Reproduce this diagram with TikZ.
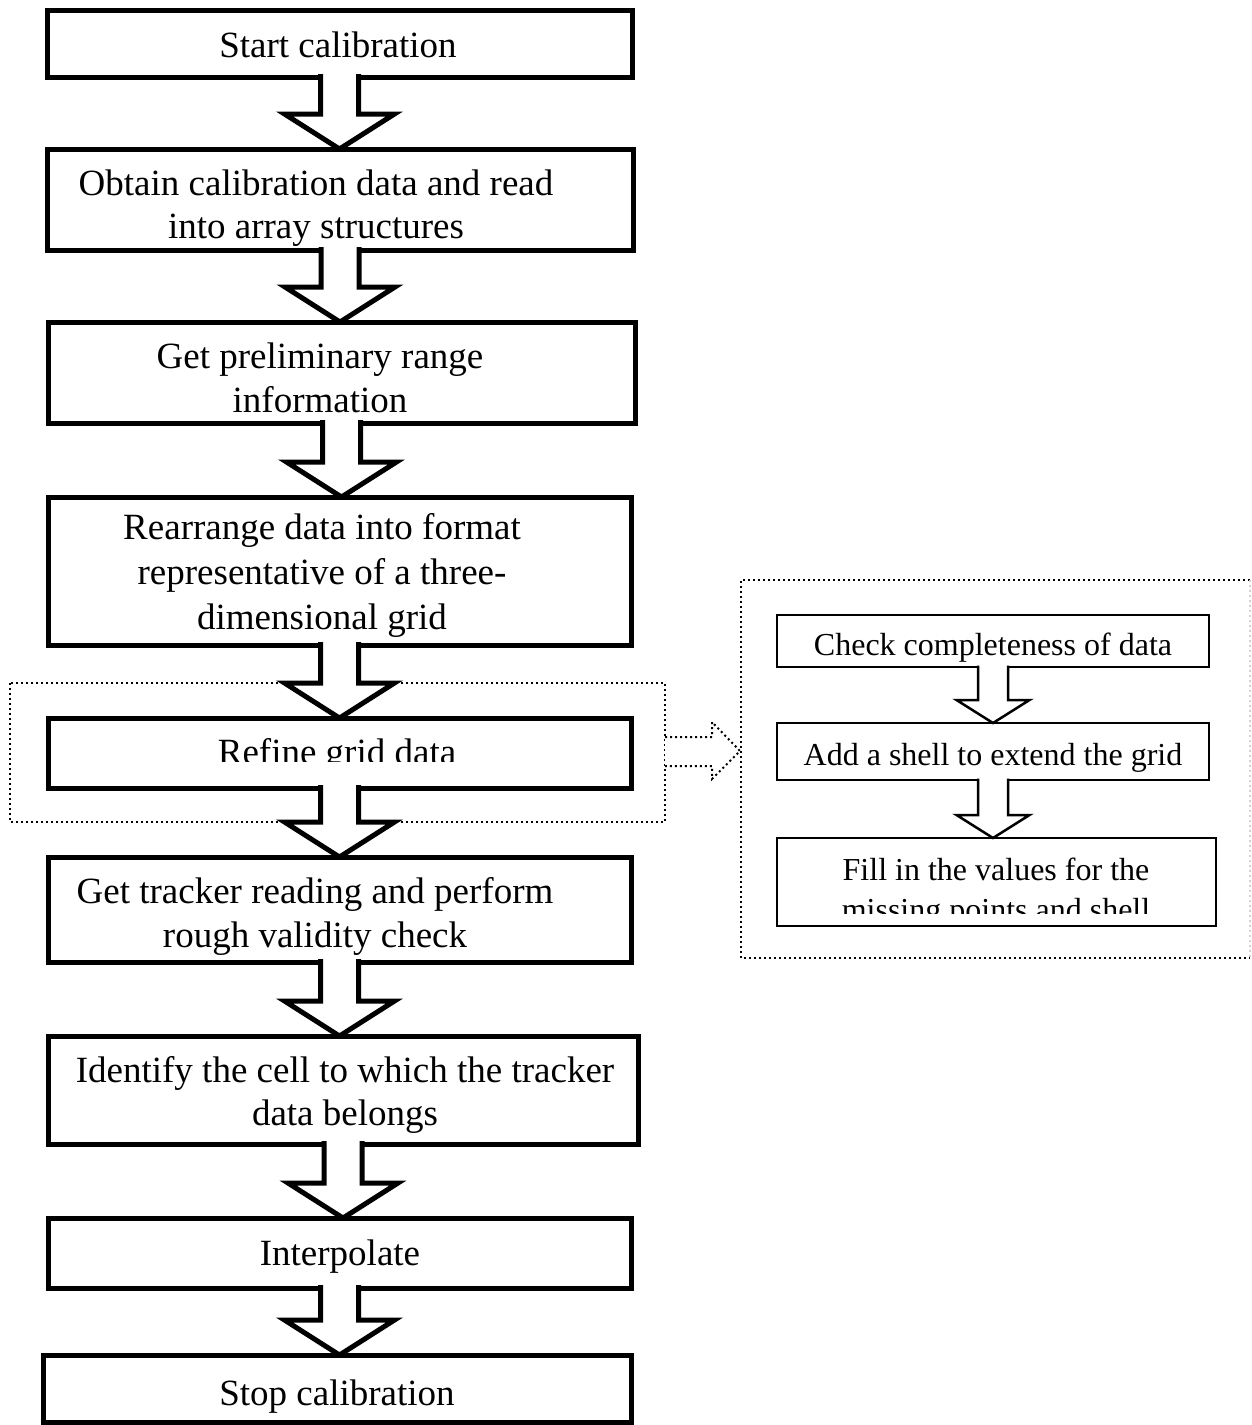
\documentclass[tikz,border=0pt]{standalone}
\usepackage{fontspec}
\setmainfont{Liberation Serif}
\usetikzlibrary{calc}
\tikzset{
  mainbox/.style={draw=black, line width=5pt, fill=white, inner sep=0pt, outer sep=0pt},
  subbox/.style={draw=black, line width=2.5pt, fill=white, inner sep=0pt, outer sep=0pt},
  grpbox/.style={inner sep=0pt, outer sep=0pt},
  dotline/.style={line width=2pt, dash pattern=on 2pt off 3pt},
  blkarrow/.style={draw=black, line width=5pt, fill=white, line join=miter},
  subarrow/.style={draw=black, line width=2.5pt, fill=white, line join=miter},
  txt/.style={font=\fontsize{37}{44}\selectfont, inner sep=0pt, anchor=base},
  subtxt/.style={font=\fontsize{32}{40}\selectfont, inner sep=0pt, anchor=base}
}
\newcommand\blkarrow[2]{%
  \draw[blkarrow] let \p1=(#1.south), \p2=(#2.north) in
    (\x1-19pt,\y1+3pt) -- (\x1-19pt,\y2+35pt) -- (\x1-55pt,\y2+35pt) -- (\x1,\y2)
    -- (\x1+55pt,\y2+35pt) -- (\x1+19pt,\y2+35pt) -- (\x1+19pt,\y1+3pt);}
\newcommand\subarrowdraw[2]{%
  \draw[subarrow] let \p1=(#1.south), \p2=(#2.north) in
    (\x1-15pt,\y1+1.5pt) -- (\x1-15pt,\y2+23pt) -- (\x1-36.5pt,\y2+23pt) -- (\x1,\y2)
    -- (\x1+36.5pt,\y2+23pt) -- (\x1+15pt,\y2+23pt) -- (\x1+15pt,\y1+1.5pt);}
\begin{document}
\begin{tikzpicture}[x=1pt,y=-1pt]
\useasboundingbox (0,0) rectangle (1251,1425);
% group frames
\node[grpbox, minimum width=655pt, minimum height=139pt] (grp1) at (337.5,752.5) {};
\draw[dotline] (grp1.north west) rectangle (grp1.south east);
\node[grpbox, minimum width=509pt, minimum height=378pt] (grp2) at (995.5,769) {};
\draw[dotline] (grp2.north east) -- (grp2.north west) -- (grp2.south west) -- (grp2.south east);
\draw[dotline, gray!35] (grp2.north east) -- (grp2.south east);
% main boxes
\node[mainbox, minimum width=585pt, minimum height=67pt] (b1) at (339.5,43.5) {};
\node[mainbox, minimum width=586pt, minimum height=101pt] (b2) at (340,199.5) {};
\node[mainbox, minimum width=587pt, minimum height=101pt] (b3) at (341.5,372.5) {};
\node[mainbox, minimum width=583pt, minimum height=148pt] (b4) at (339.5,571) {};
\node[mainbox, minimum width=583pt, minimum height=70pt] (b5) at (339.5,753) {};
\node[mainbox, minimum width=583pt, minimum height=105pt] (b6) at (339.5,909.5) {};
\node[mainbox, minimum width=590pt, minimum height=108pt] (b7) at (343,1090) {};
\node[mainbox, minimum width=583pt, minimum height=70pt] (b8) at (339.5,1253) {};
\node[mainbox, minimum width=588pt, minimum height=67pt] (b9) at (337,1388.5) {};
% texts
\node[txt] (t1) at (338,57) {Start calibration};
\node[txt] (t2a) at (316,195) {Obtain calibration data and read};
\node[txt] (t2b) at (316,238) {into array structures};
\node[txt] (t3a) at (320,368) {Get preliminary range};
\node[txt] (t3b) at (320,412) {information};
\node[txt] (t4a) at (322,539) {Rearrange data into format};
\node[txt] (t4b) at (322,584) {representative of a three-};
\node[txt] (t4c) at (322,629) {dimensional grid};
\begin{scope}
\clip (50,720) rectangle (629,761);
\node[txt] (t5) at (337,764) {Refine grid data};
\end{scope}
\node[txt] (t6a) at (315,903) {Get tracker reading and perform};
\node[txt] (t6b) at (315,947) {rough validity check};
\node[txt] (t7a) at (345,1082) {Identify the cell to which the tracker};
\node[txt] (t7b) at (345,1125) {data belongs};
\node[txt] (t8) at (340,1265) {Interpolate};
\node[txt] (t9) at (337,1405) {Stop calibration};
% block arrows
\blkarrow{b1}{b2}
\blkarrow{b2}{b3}
\blkarrow{b3}{b4}
\blkarrow{b4}{b5}
\blkarrow{b5}{b6}
\blkarrow{b6}{b7}
\blkarrow{b7}{b8}
\blkarrow{b8}{b9}
% dotted link arrow
\draw[dotline, fill=white] let \p1=(grp1.east), \p2=(grp2.west) in
  (\x1,\y1+15.5pt) -- (\x2-29pt,\y1+15.5pt) -- (\x2-29pt,\y1+30.5pt) -- (\x2-1pt,\y1+1.5pt)
  -- (\x2-29pt,\y1-26.5pt) -- (\x2-29pt,\y1-13.5pt) -- (\x1,\y1-13.5pt);
% sub boxes
\node[subbox, minimum width=432pt, minimum height=52pt] (s1) at (993,641) {};
\node[subbox, minimum width=432pt, minimum height=57pt] (s2) at (993,751.5) {};
\node[subbox, minimum width=439pt, minimum height=88pt] (s3) at (996.5,882) {};
\node[subtxt] (u1) at (993,655) {Check completeness of data};
\node[subtxt] (u2) at (993,765) {Add a shell to extend the grid};
\node[subtxt] (u3a) at (996,880) {Fill in the values for the};
\begin{scope}
\clip (779,885) rectangle (1214,913);
\node[subtxt] (u3b) at (996,920) {missing points and shell};
\end{scope}
\subarrowdraw{s1}{s2}
\subarrowdraw{s2}{s3}
\end{tikzpicture}
\end{document}
